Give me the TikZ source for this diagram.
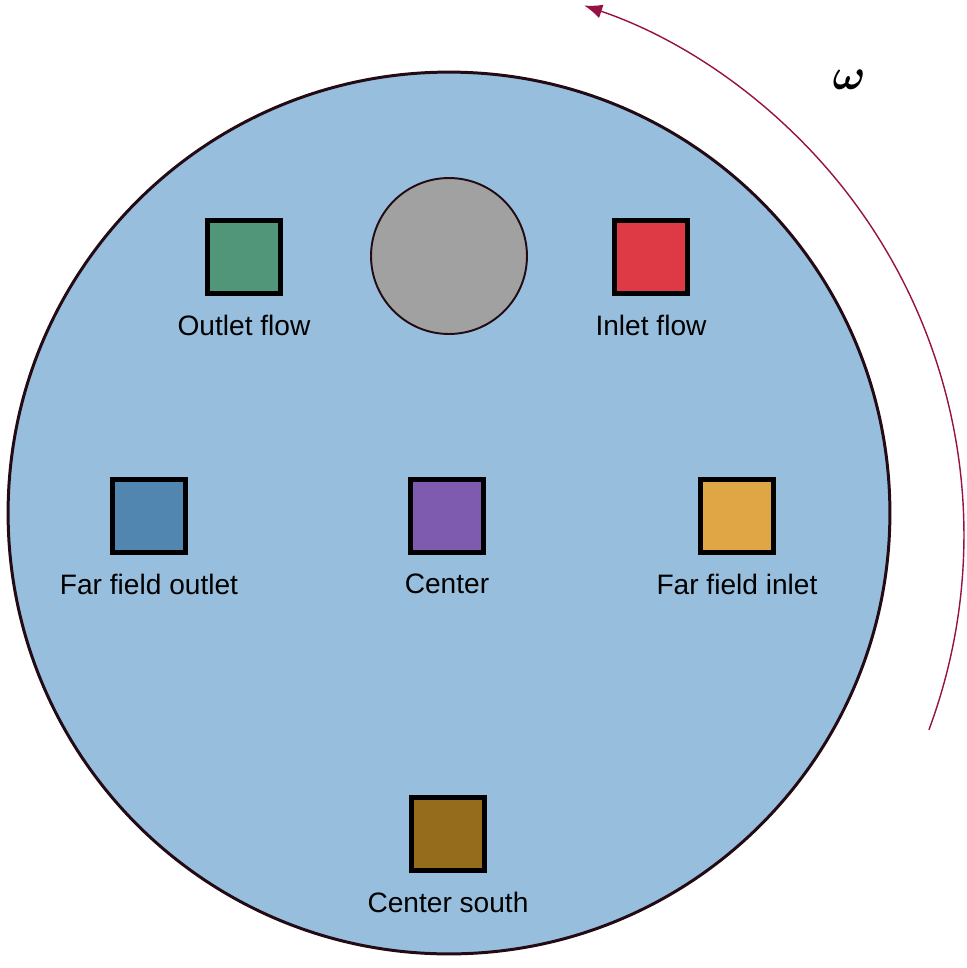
\documentclass[tikz,border=0pt]{standalone}
\usepackage{fontspec}
\usepackage{amsmath}
\setmainfont{Liberation Sans}
\usetikzlibrary{arrows.meta,positioning,calc}
\definecolor{discblue}{RGB}{151,191,221}
\definecolor{rimdark}{RGB}{35,10,20}
\definecolor{hubgray}{RGB}{161,161,161}
\definecolor{spinred}{RGB}{150,18,68}
\definecolor{probegreen}{RGB}{82,150,121}
\definecolor{probered}{RGB}{222,58,69}
\definecolor{probeblue}{RGB}{81,134,176}
\definecolor{probepurple}{RGB}{126,91,174}
\definecolor{probeorange}{RGB}{224,165,69}
\definecolor{probebrown}{RGB}{149,108,28}

\begin{document}
\begin{tikzpicture}[x=0.02cm,y=0.02cm,
  probe/.style={draw=black,line width=2.6pt,minimum size=1.47cm,inner sep=0pt},
  tag/.style={font=\fontsize{16}{19}\selectfont,inner sep=0pt,below=0.37cm of #1}]
\useasboundingbox (0,0) rectangle (967,-968);
% Disc and hub
\node[circle,draw=rimdark,line width=1.7pt,fill=discblue,minimum size=17.64cm,inner sep=0pt] (disc) at (449,-513) {};
\node[circle,draw=rimdark,line width=1.1pt,fill=hubgray,minimum size=3.12cm,inner sep=0pt] (hub) at (449,-256) {};
% Probes
\node[probe,fill=probegreen] (outf) at (244,-257) {};
\node[probe,fill=probered] (inf) at (651,-257) {};
\node[probe,fill=probeblue] (ffo) at (149,-516) {};
\node[probe,fill=probepurple] (cen) at (447,-516) {};
\node[probe,fill=probeorange] (ffi) at (737,-516) {};
\node[probe,fill=probebrown] (cens) at (448,-834) {};
\node[tag=outf] (outfl) {Outlet flow};
\node[tag=inf] (infl) {Inlet flow};
\node[tag=ffo] (ffol) {Far field outlet};
\node[tag=cen] (cenl) {Center};
\node[tag=ffi] (ffil) {Far field inlet};
\node[tag=cens] (censl) {Center south};
% Rotation
\coordinate (spin) at ($(405,-535)+(-20.4:559)$);
\draw[spinred,line width=0.8pt,-{Latex[length=3.6mm,width=2.8mm]}] (spin) arc[start angle=-20.4,end angle=71.3,radius=559];
\node[font=\fontsize{29}{34}\selectfont] (omega) at (849,-80) {$\boldsymbol{\omega}$};
\end{tikzpicture}
\end{document}
